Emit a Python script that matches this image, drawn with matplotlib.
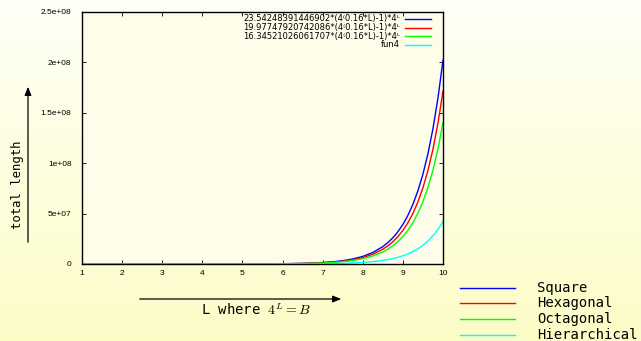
import numpy as np
import matplotlib
matplotlib.use("Agg")
import matplotlib.pyplot as plt
from matplotlib.lines import Line2D
from matplotlib.patches import FancyArrowPatch

# sample positions of L and curve values (in 1e6)
L = [1, 2, 3, 4, 5, 6, 6.5, 7, 7.25, 7.5, 7.75, 8, 8.25, 8.5, 8.625, 8.75,
     8.875, 9, 9.125, 9.25, 9.375, 9.5, 9.625, 9.75, 9.875, 10]
square = [0.0, 0.0, 0.001, 0.004, 0.03, 0.27, 0.62, 1.44, 2.18, 3.30, 5.00,
          7.56, 11.42, 17.24, 21.19, 26.03, 31.97, 39.26, 48.21, 59.19,
          72.65, 89.18, 109.44, 134.30, 164.78, 202.17]
hexagonal = [0.0, 0.0, 0.001, 0.003, 0.025, 0.23, 0.53, 1.22, 1.85, 2.80,
             4.24, 6.41, 9.69, 14.63, 17.98, 22.09, 27.13, 33.31, 40.91,
             50.22, 61.65, 75.67, 92.87, 113.97, 139.83, 171.55]
octagonal = [0.0, 0.0, 0.001, 0.003, 0.02, 0.19, 0.43, 1.00, 1.51, 2.29,
             3.47, 5.25, 7.93, 11.97, 14.71, 18.07, 22.20, 27.26, 33.47,
             41.09, 50.44, 61.91, 75.99, 93.25, 114.40, 140.36]
fun4 = [0.0, 0.0, 0.0, 0.001, 0.006, 0.056, 0.13, 0.30, 0.45, 0.69, 1.04,
        1.57, 2.38, 3.59, 4.41, 5.42, 6.65, 8.17, 10.03, 12.32, 15.12, 18.56,
        22.78, 27.95, 34.30, 42.1]

inner_labels = ["23.54248391446902*(4\u207d0.16*L)-1)*4\u1d38",
                "19.97747920742086*(4\u207d0.16*L)-1)*4\u1d38",
                "16.34521026061707*(4\u207d0.16*L)-1)*4\u1d38",
                "fun4"]
outer_labels = ["Square", "Hexagonal", "Octagonal", "Hierarchical"]
colors = ["#0000ff", "#ff0000", "#00ff00", "#00ffff"]
yticks = [0, 5e7, 1e8, 1.5e8, 2e8, 2.5e8]
ytick_labels = ["0", "5e+07", "1e+08", "1.5e+08", "2e+08", "2.5e+08"]

plt.rcParams["font.family"] = ["Liberation Sans", "DejaVu Sans"]
plt.rcParams["mathtext.fontset"] = "cm"

W, H = 641, 341
fig = plt.figure(figsize=(W / 100, H / 100), dpi=100)


def fx(px):
    return px / W


def fy(py):
    return 1 - py / H


# gradient background
bg = fig.add_axes([0, 0, 1, 1], zorder=-10)
grad = np.linspace(0, 1, 256)[:, None]
top = np.array([1.0, 1.0, 0.97])
bot = np.array([0.99, 0.99, 0.78])
img = top[None, None, :] * (1 - grad[:, :, None]) + bot[None, None, :] * grad[:, :, None]
bg.imshow(img, aspect="auto", extent=[0, 1, 0, 1])
bg.set_axis_off()

ax = fig.add_axes([fx(82), fy(264), fx(443) - fx(82), fy(12) - fy(264)])
ax.set_facecolor("#fdfdea")
series = [square, hexagonal, octagonal, fun4]
for vals, c in zip(series, colors):
    ax.plot(L, np.array(vals) * 1e6, color=c, lw=1.0)

ax.set_xlim(1, 10)
ax.set_ylim(0, 2.5e8)
ax.set_xticks(range(1, 11))
ax.set_yticks(yticks)
ax.set_yticklabels(ytick_labels)
ax.tick_params(direction="in", top=True, right=True, labelsize=6, length=3,
               width=0.6)
ax.tick_params(axis="y", pad=7.5)
ax.tick_params(axis="x", pad=4.5)
for s in ax.spines.values():
    s.set_linewidth(1.0)

# key inside the plot
for y, c, lab in zip([19, 27.5, 36, 44.5], colors, inner_labels):
    fig.text(fx(400), fy(y), lab, ha="right", va="center", fontsize=6,
             family="DejaVu Sans")
    fig.add_artist(Line2D([fx(405), fx(431)], [fy(y), fy(y)], color=c, lw=1.0))

# axis labels with arrows
fig.text(fx(18), fy(185), "total length", rotation=90, ha="center",
         va="center", family="DejaVu Sans Mono", fontsize=8.8)
fig.add_artist(FancyArrowPatch(
    (fx(28), fy(245)), (fx(28), fy(84)), transform=fig.transFigure,
    arrowstyle="-|>,head_length=5,head_width=2", color="black", lw=0.9))
fig.text(fx(256), fy(310), r"L where $4^L = B$", ha="center", va="center",
         family="DejaVu Sans Mono", fontsize=10)
fig.add_artist(FancyArrowPatch(
    (fx(137), fy(299)), (fx(344), fy(299)), transform=fig.transFigure,
    arrowstyle="-|>,head_length=5,head_width=2", color="black", lw=0.9))

# key outside the plot
for y, c, lab in zip([288, 303, 319, 335], colors, outer_labels):
    fig.add_artist(Line2D([fx(460), fx(515)], [fy(y), fy(y)], color=c, lw=1.0))
    fig.text(fx(537), fy(y), lab, ha="left", va="center",
             family="DejaVu Sans Mono", fontsize=10)

fig.savefig("out.png", dpi=100)
